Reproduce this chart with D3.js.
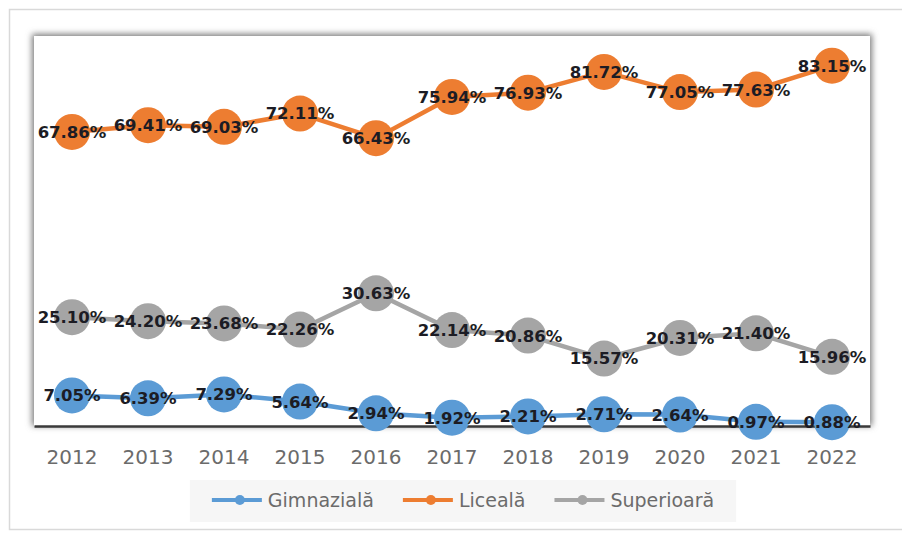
<!DOCTYPE html>
<html>
<head>
<meta charset="utf-8">
<script src="https://cdn.jsdelivr.net/npm/d3@7"></script>
<style>
  html, body { margin: 0; padding: 0; background: #fff; }
  svg { display: block; }
</style>
</head>
<body>
<svg id="chart" width="902" height="535"></svg>
<script>
const years = ["2012","2013","2014","2015","2016","2017","2018","2019","2020","2021","2022"];
const seriesNames = ["Gimnazială", "Liceală", "Superioară"];
const gimnaziala = [7.05, 6.39, 7.29, 5.64, 2.94, 1.92, 2.21, 2.71, 2.64, 0.97, 0.88];
const liceala = [67.86, 69.41, 69.03, 72.11, 66.43, 75.94, 76.93, 81.72, 77.05, 77.63, 83.15];
const superioara = [25.10, 24.20, 23.68, 22.26, 30.63, 22.14, 20.86, 15.57, 20.31, 21.40, 15.96];
const seriesColors = ["#5B9BD5", "#ED7D31", "#A5A5A5"];
const yDomain = [0, 90];

const series = [
  { name: seriesNames[0], values: gimnaziala, color: seriesColors[0] },
  { name: seriesNames[1], values: liceala, color: seriesColors[1] },
  { name: seriesNames[2], values: superioara, color: seriesColors[2] }
];

const svg = d3.select("#chart");
const plot = { left: 34, right: 870, top: 36, bottom: 426 };

// defs: shadow filter
const defs = svg.append("defs");
const f = defs.append("filter").attr("id", "sh").attr("x", "-5%").attr("y", "-5%").attr("width", "110%").attr("height", "110%");
f.append("feGaussianBlur").attr("in", "SourceAlpha").attr("stdDeviation", 3).attr("result", "b");
f.append("feFlood").attr("flood-color", "#7a7a7a").attr("result", "c");
f.append("feComposite").attr("in", "c").attr("in2", "b").attr("operator", "in").attr("result", "s");
f.append("feMerge").call(m => { m.append("feMergeNode").attr("in", "s"); });

// outer frame
svg.append("rect")
  .attr("x", 9.5).attr("y", 9.5).attr("width", 905).attr("height", 520)
  .attr("fill", "#fff").attr("stroke", "#d9d9d9").attr("stroke-width", 1.5);

// plot area shadow + white box
svg.append("rect")
  .attr("x", plot.left - 2).attr("y", plot.top - 2)
  .attr("width", plot.right - plot.left + 4).attr("height", plot.bottom - plot.top + 2)
  .attr("fill", "#000").attr("filter", "url(#sh)");
svg.append("rect")
  .attr("x", plot.left).attr("y", plot.top)
  .attr("width", plot.right - plot.left).attr("height", plot.bottom - plot.top)
  .attr("fill", "#fff");

const x = d3.scaleBand().domain(years).range([plot.left, plot.right]);
const y = d3.scaleLinear().domain(yDomain).range([plot.bottom, plot.top]);
const cx = d => x(d) + x.bandwidth() / 2;

// x axis
const xAxis = svg.append("g")
  .attr("transform", `translate(0,${plot.bottom})`)
  .call(d3.axisBottom(x).tickSize(0).tickPadding(24));
xAxis.select(".domain").attr("stroke", "#3a3a3a").attr("stroke-width", 2.5);
xAxis.selectAll("text")
  .attr("font-family", "DejaVu Sans")
  .attr("font-size", 20)
  .attr("fill", "#6b6b6b");

// lines and markers
const line = d3.line().x((d, i) => cx(years[i])).y(d => y(d));
series.forEach(s => {
  svg.append("path")
    .datum(s.values)
    .attr("d", line)
    .attr("fill", "none")
    .attr("stroke", s.color)
    .attr("stroke-width", 4.5)
    .attr("stroke-linejoin", "round");
  svg.append("g").selectAll("circle")
    .data(s.values)
    .join("circle")
    .attr("cx", (d, i) => cx(years[i]))
    .attr("cy", d => y(d))
    .attr("r", 18)
    .attr("fill", s.color);
});

// labels
series.forEach(s => {
  svg.append("g").selectAll("text")
    .data(s.values)
    .join("text")
    .attr("x", (d, i) => cx(years[i]))
    .attr("y", d => y(d))
    .attr("dy", "0.36em")
    .attr("text-anchor", "middle")
    .attr("font-family", "DejaVu Sans")
    .attr("font-weight", "bold")
    .attr("font-size", 16.5)
    .attr("fill", "#1c1c24")
    .text(d => d.toFixed(2) + "%");
});

// legend
const legendY = 500;
const lg = svg.append("g");
const legendBg = lg.append("rect").attr("fill", "#f6f6f6");
const items = [];
let curX = 0;
series.forEach((s, i) => {
  const g = lg.append("g");
  g.append("line").attr("x1", 0).attr("x2", 50).attr("y1", 0).attr("y2", 0)
    .attr("stroke", s.color).attr("stroke-width", 4);
  g.append("circle").attr("cx", 28).attr("cy", 0).attr("r", 5).attr("fill", s.color);
  const t = g.append("text").attr("x", 56).attr("y", 0).attr("dy", "0.36em")
    .attr("font-family", "DejaVu Sans").attr("font-size", 19).attr("fill", "#6b6b6b")
    .text(s.name);
  const w = 56 + t.node().getComputedTextLength();
  items.push({ g, w });
});
const gap = 29;
const total = d3.sum(items, d => d.w) + gap * (items.length - 1);
let startX = 463 - total / 2;
items.forEach(it => {
  it.g.attr("transform", `translate(${startX},${legendY})`);
  startX += it.w + gap;
});
legendBg.attr("x", 463 - total / 2 - 22).attr("y", 480)
  .attr("width", total + 44).attr("height", 42);
</script>
</body>
</html>
